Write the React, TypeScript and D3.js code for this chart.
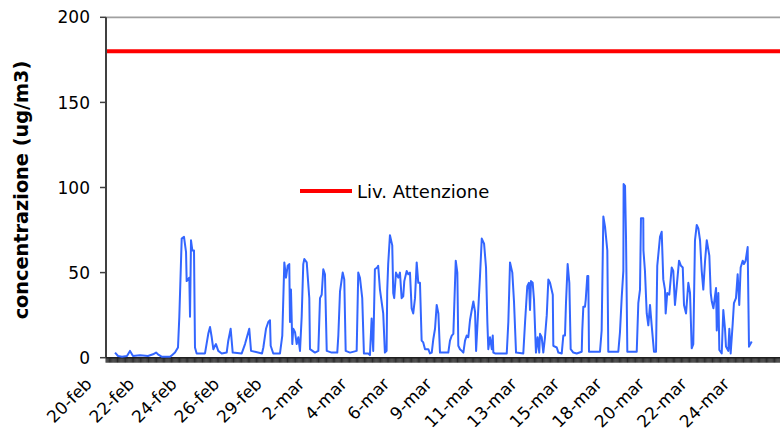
import React from "react";
import * as d3 from "d3";

const tickLabels = ["20-feb","22-feb","24-feb","26-feb","29-feb","2-mar","4-mar","6-mar","9-mar","11-mar","13-mar","15-mar","18-mar","20-mar","22-mar","24-mar"];
const yTicks = [0, 50, 100, 150, 200];
const attentionLevel = 180;
const legendLabel = "Liv. Attenzione";
const yTitle = "concentrazione (ug/m3)";

// hours since the start of 20-feb (category index) and concentration values
const hours = [10.2,13.6,18.1,23.7,27.1,30.5,38.4,47.4,53.1,56.5,58.7,63.2,72.3,74.5,77.9,81.3,82.8,85.5,88.1,90.4,91.1,92.6,94.1,94.9,96.0,97.5,99.4,100.5,102.4,111.8,115.5,117.5,119.4,121.2,123.1,124.2,126.8,130.7,136.3,138.1,140.8,143.1,153.3,157.0,161.8,163.8,176.2,177.7,180.7,183.3,185.2,186.0,188.9,196.5,199.1,201.4,203.3,205.2,207.0,207.8,208.9,210.4,211.5,213.5,215.4,217.2,219.1,221.0,222.8,224.0,226.7,229.6,230.4,236.0,239.8,241.7,243.6,245.4,247.3,249.3,254.9,261.2,262.4,264.3,267.3,269.1,270.7,275.6,283.1,284.9,286.8,289.4,291.3,296.2,298.1,300.0,301.8,303.7,306.3,307.4,309.4,313.1,315.0,316.9,317.6,318.7,320.7,323.3,324.4,325.5,327.5,330.1,332.0,333.9,335.7,336.9,339.6,341.4,343.3,345.2,347.0,349.0,350.9,352.7,354.6,356.5,358.3,360.3,364.0,365.9,367.9,369.7,371.6,373.5,375.4,377.2,386.6,388.5,390.5,392.3,395.0,396.8,397.9,399.8,401.8,403.6,405.5,407.4,409.2,411.1,413.1,414.9,416.8,418.0,420.6,422.4,424.4,427.0,429.2,430.7,431.8,433.7,435.7,436.8,437.5,439.4,452.6,454.4,456.3,458.9,460.8,463.1,471.3,473.3,475.8,477.7,478.9,480.0,481.9,483.4,485.6,487.5,489.3,490.2,492.1,493.9,495.8,497.8,499.6,501.5,504.6,505.2,509.1,510.9,514.7,516.5,518.4,519.5,521.4,523.3,524.8,527.8,531.6,537.3,537.9,539.1,541.0,541.8,543.6,544.7,545.5,557.9,559.8,561.7,563.6,566.2,567.3,578.6,580.5,582.5,584.3,584.6,586.2,587.3,588.8,599.4,601.2,603.1,604.2,606.8,607.0,608.7,610.7,612.5,614.4,616.3,618.9,621.2,622.6,625.7,627.6,629.4,631.3,632.1,633.9,636.2,638.9,640.7,642.6,644.6,647.2,649.4,651.4,652.8,655.1,657.7,659.6,661.5,663.3,665.2,667.2,669.0,670.9,672.8,674.6,676.6,678.5,681.4,683.0,684.2,686.0,689.0,689.8,691.6,692.7,695.4,697.2,699.1,700.2,702.8,704.0,705.5,707.8,709.2,711.5,713.4,715.2,716.8,719.1,720.5,722.4,724.7,726.2,729.3];
const conc = [3,1,0.5,1,4,1,1.5,1,2,3,2,0.5,0.5,1.5,3,6,24,70,71,62,45,46,47,24,69,63,63,6,2.5,2.5,14,18,12,5,7,8,4,2.5,3,10,17,3,2.5,8,17,4,2.5,6,17,21,22,7,2.5,2.5,13,56,47,54,55,21,40,8,17,15,8,12,4,24,55,58,56,35,5,3,4,35,37,52,49,4,3,3,13,39,50,46,4,3,4,50,47,35,2.5,2.5,1.5,23,4,52,53,54,40,26,3,4,39,55,72,66,38,35,50,47,50,35,36,45,51,49,50,29,26,35,56,44,44,10,9,5,5,2.5,3,11,17,31,26,3,3,10,13,14,57,50,7,5,4,3,10,13,12,22,28,33,27,4,30,48,70,67,53,21,5,12,5,13,3,2.5,2.5,21,56,50,33,3,2.5,21,42,44,28,45,44,34,3,12,3,14,12,3,12,25,46,44,37,7,6,3,2.5,13,13,32,55,44,5,3,2.5,3.5,16,30,30,34,48,48,3.5,3.5,16,83,77,63,3.5,3.5,15,36,51,102,101,71,3.5,3.5,32,40,82,82,63,51,26,19,31,19,3.5,3.5,54,71,74,46,40,26,38,37,53,51,31,42,57,54,53,31,26,44,38,5.5,8,69,78,76,69,51,40,57,69,60,38,33,29,41,16,38,4.5,2.5,28,17,6.5,4,17,2.5,20,32,35,49,31,53,57,55,57,65,6.5,9.5];

const W = 780, H = 430;
const LEFT = 106, RIGHT = 786, TOP = 17.3, BOTTOM = 357.7;
const TOTAL_HOURS = tickLabels.length * 48;
const FONT = "'DejaVu Sans', Verdana, sans-serif";

export default function App() {
  const x = d3.scaleLinear().domain([0, TOTAL_HOURS]).range([LEFT, RIGHT]);
  const y = d3.scaleLinear().domain([0, 200]).range([BOTTOM, TOP]);
  const pts: [number, number][] = hours.map((h, i) => [h, conc[i]]);
  const line = d3.line<[number, number]>().x(d => x(d[0])).y(d => y(d[1]));
  const catTicks = d3.range(0, TOTAL_HOURS + 1);

  return (
    <svg width={W} height={H} style={{ position: "fixed", left: 0, top: 0, background: "#fff" }}>
      {/* top gridline */}
      <line x1={LEFT} x2={W} y1={y(200)} y2={y(200)} stroke="#a0a0a0" strokeWidth={1.8} />
      {/* attention level */}
      <line x1={LEFT} x2={W} y1={y(attentionLevel)} y2={y(attentionLevel)} stroke="#ff0000" strokeWidth={4} />
      {/* category ticks */}
      <g stroke="#000" strokeWidth={0.8}>
        {catTicks.map(h => (
          <line key={h} x1={x(h)} x2={x(h)} y1={BOTTOM} y2={BOTTOM + 5} />
        ))}
      </g>
      {/* axes */}
      <line x1={LEFT} x2={LEFT} y1={TOP} y2={BOTTOM} stroke="#404040" strokeWidth={2} />
      <line x1={LEFT} x2={W} y1={BOTTOM} y2={BOTTOM} stroke="#202020" strokeWidth={1.5} />
      {yTicks.map(t => (
        <g key={t}>
          <line x1={LEFT - 6} x2={LEFT} y1={y(t)} y2={y(t)} stroke="#404040" strokeWidth={1.5} />
          <text x={90} y={y(t)} dy="0.36em" textAnchor="end" fontFamily={FONT} fontSize={17} fill="#000">{t}</text>
        </g>
      ))}
      {/* data line */}
      <path d={line(pts) || ""} fill="none" stroke="#3366ff" strokeWidth={2} strokeLinejoin="round" />
      {/* x labels */}
      {tickLabels.map((lab, i) => {
        const ax = x(i * 48) - 13;
        const ay = 385;
        return (
          <text key={lab} x={ax} y={ay} textAnchor="end" fontFamily={FONT} fontSize={17} fill="#000"
            transform={`rotate(-45 ${ax} ${ay})`}>{lab}</text>
        );
      })}
      {/* y title */}
      <text x={0} y={0} transform={`translate(28 190) rotate(-90)`} textAnchor="middle" fontFamily={FONT}
        fontWeight="bold" fontSize={19.3} fill="#000">{yTitle}</text>
      {/* legend */}
      <line x1={300} x2={352} y1={191} y2={191} stroke="#ff0000" strokeWidth={4} />
      <text x={357} y={198} fontFamily={FONT} fontSize={18} fill="#000">{legendLabel}</text>
    </svg>
  );
}
